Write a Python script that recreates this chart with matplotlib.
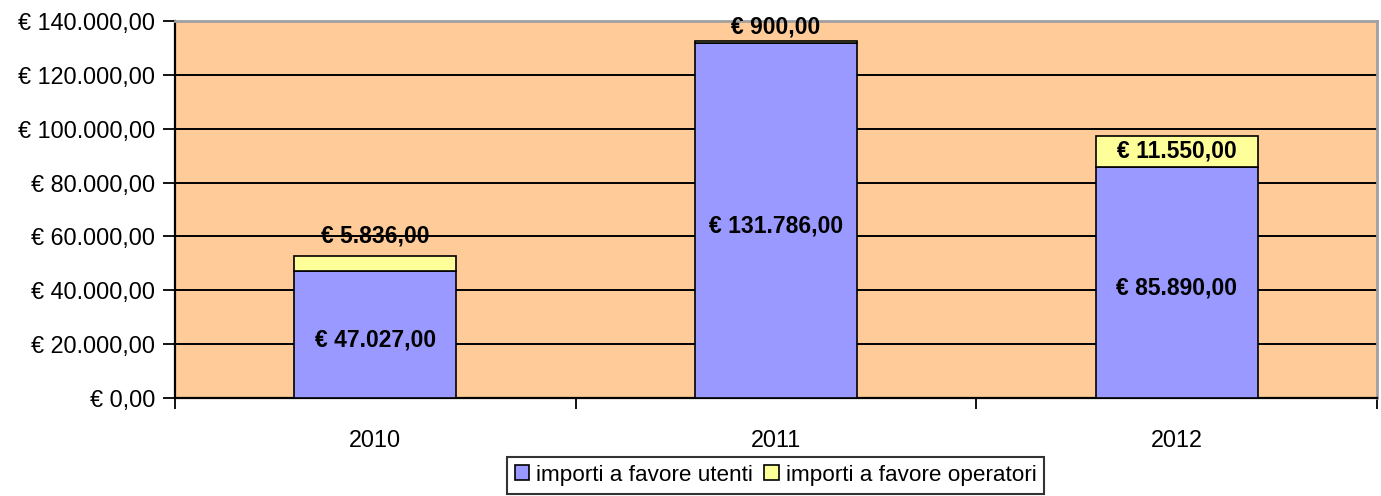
import matplotlib
matplotlib.use("Agg")
import matplotlib.pyplot as plt
from matplotlib.patches import Patch

years = ["2010", "2011", "2012"]
utenti = [47027.00, 131786.00, 85890.00]
operatori = [5836.00, 900.00, 11550.00]
yticks = [0, 20000, 40000, 60000, 80000, 100000, 120000, 140000]
ytick_labels = ["€ 0,00", "€ 20.000,00", "€ 40.000,00", "€ 60.000,00",
                "€ 80.000,00", "€ 100.000,00", "€ 120.000,00", "€ 140.000,00"]
utenti_labels = ["€ 47.027,00", "€ 131.786,00", "€ 85.890,00"]
operatori_labels = ["€ 5.836,00", "€ 900,00", "€ 11.550,00"]

plt.rcParams['font.family'] = ['Liberation Sans', 'DejaVu Sans']

W, H = 1381, 496
fig = plt.figure(figsize=(W / 100, H / 100), dpi=100)
ax = fig.add_axes([175 / W, 1 - 398 / H, (1377 - 175) / W, (398 - 21) / H])
ax.set_facecolor("#FFCC99")

x = list(range(len(years)))
bw = 0.405
ax.bar(x, utenti, width=bw, color="#9999FF", edgecolor="black", linewidth=1.2, zorder=3)
ax.bar(x, operatori, width=bw, bottom=utenti, color="#FFFF99", edgecolor="black", linewidth=1.2, zorder=3)

ax.set_xlim(-0.5, 2.5)
ax.set_ylim(0, 140000)
ax.set_yticks(yticks)
ax.set_yticklabels(ytick_labels, fontsize=16.8)
ax.set_xticks(x)
ax.set_xticklabels(years, fontsize=16.8)
ax.tick_params(axis='x', length=0, pad=22)
ax.tick_params(axis='y', length=8.6, width=1.3, direction='out', pad=5.5)
# category boundary ticks
ax.set_xticks([-0.5, 0.5, 1.5, 2.5], minor=True)
ax.tick_params(axis='x', which='minor', length=8, width=1.3, direction='out')

ax.yaxis.grid(True, color="black", linewidth=1.4, zorder=1)
ax.set_axisbelow(True)
for s in ["left", "bottom"]:
    ax.spines[s].set_linewidth(1.6)
    ax.spines[s].set_color("black")
for s in ["top", "right"]:
    ax.spines[s].set_linewidth(2)
    ax.spines[s].set_color("#A0A0A0")

# labels for bottom segments
for i in x:
    ax.text(i, utenti[i] / 2 - 2000, utenti_labels[i], ha='center', va='center',
            fontsize=16.5, fontweight='bold', zorder=5)
# labels for top segments
op_y = [60150, 137800, utenti[2] + operatori[2] / 2]
for i in x:
    ax.text(i, op_y[i], operatori_labels[i], ha='center', va='center',
            fontsize=16.5, fontweight='bold', zorder=5)

handles = [Patch(facecolor="#9999FF", edgecolor="black", linewidth=1.2),
           Patch(facecolor="#FFFF99", edgecolor="black", linewidth=1.2)]
leg = fig.legend(handles, ["importi a favore utenti", "importi a favore operatori"],
                 loc='upper center', bbox_to_anchor=(775.5 / W, 1 - 457 / H), ncol=2,
                 fontsize=16.2, frameon=True, fancybox=False, handlelength=0.65,
                 handleheight=0.65, handletextpad=0.3, columnspacing=0.5,
                 borderpad=0.35, borderaxespad=0)
leg.get_frame().set_edgecolor("black")
leg.get_frame().set_linewidth(1.5)

fig.savefig("out.png", dpi=100)
